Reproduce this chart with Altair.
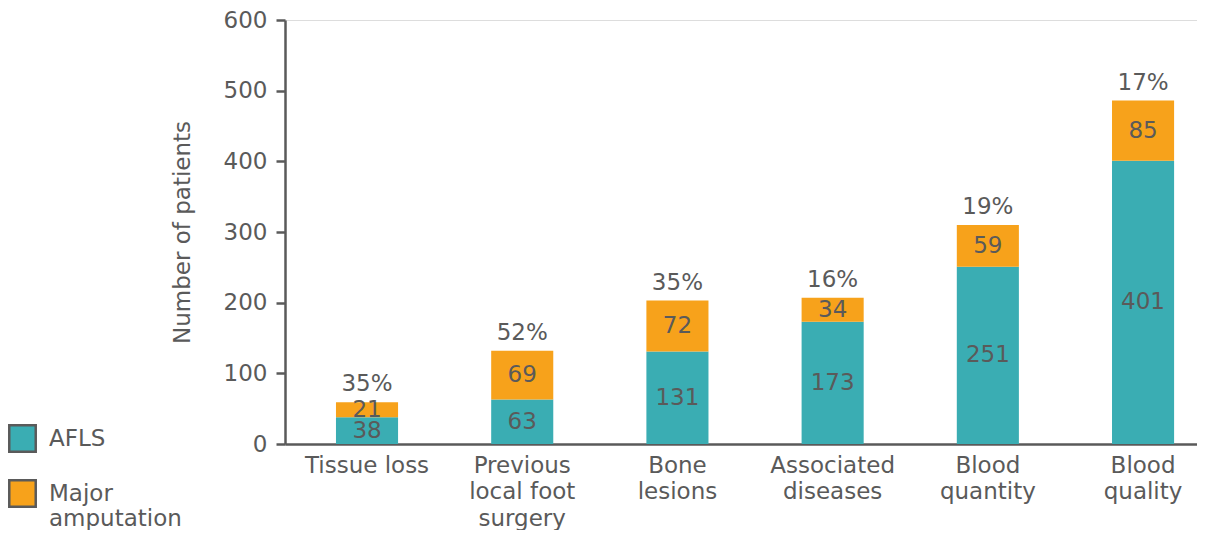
import altair as alt
import pandas as pd

categories = ["Tissue loss", "Previous\nlocal foot\nsurgery", "Bone\nlesions",
              "Associated\ndiseases", "Blood\nquantity", "Blood\nquality"]
afls = [38, 63, 131, 173, 251, 401]
major = [21, 69, 72, 34, 59, 85]
pct_labels = ["35%", "52%", "35%", "16%", "19%", "17%"]
series = ["AFLS", "Major amputation"]
colors = ["#3AADB3", "#F7A21B"]

TEXT = "#5a5a5a"
FONT = "DejaVu Sans"
FS = 23

rows = []
for c, a, m in zip(categories, afls, major):
    rows.append({"cat": c, "series": series[0], "value": a, "y0": 0, "y1": a, "order": 0})
    rows.append({"cat": c, "series": series[1], "value": m, "y0": a, "y1": a + m, "order": 1})
df = pd.DataFrame(rows)
df["mid"] = (df["y0"] + df["y1"]) / 2

tot = pd.DataFrame({"cat": categories, "total": [a + m for a, m in zip(afls, major)], "pct": pct_labels})

xenc = alt.X("cat:N", sort=categories,
             scale=alt.Scale(paddingInner=0.6, paddingOuter=0.238, align=0.69),
             axis=alt.Axis(title=None, labelExpr="split(datum.label, '\\n')", labelAngle=0,
                           labelFontSize=FS, labelColor=TEXT, labelFont=FONT,
                           labelLineHeight=26.5, labelPadding=10, ticks=False,
                           domainColor=TEXT, domainWidth=2.5, labelBaseline="top"))

bars = alt.Chart(df).mark_bar().encode(
    x=xenc,
    y=alt.Y("y0:Q", scale=alt.Scale(domain=[0, 600]),
            axis=alt.Axis(title="Number of patients", values=[0, 100, 200, 300, 400, 500, 600],
                          grid=False, labelFontSize=FS, labelColor=TEXT, labelFont=FONT,
                          titleFontSize=FS, titleColor=TEXT, titleFont=FONT, titleFontWeight="normal",
                          titlePadding=29, tickSize=9, tickWidth=2.5, tickColor=TEXT,
                          domainColor=TEXT, domainWidth=2.5, labelPadding=9)),
    y2="y1:Q",
    color=alt.Color("series:N", scale=alt.Scale(domain=series, range=colors),
                    legend=alt.Legend(title=None, orient="none", legendX=-277, legendY=404,
                                      symbolType="square", symbolSize=700,
                                      symbolStrokeColor=TEXT, symbolStrokeWidth=2.5,
                                      symbolOpacity=1, labelFontSize=FS, labelColor=TEXT,
                                      labelFont=FONT, labelOffset=12, rowPadding=18,
                                      labelExpr="datum.label == 'Major amputation' ? ['Major', 'amputation'] : datum.label",
                                      padding=0)),
)

seg_labels = alt.Chart(df).mark_text(fontSize=FS, color=TEXT, font=FONT, baseline="middle").encode(
    x=alt.X("cat:N", sort=categories),
    y="mid:Q",
    text="value:Q",
)

pct = alt.Chart(tot).mark_text(fontSize=FS, color=TEXT, font=FONT, baseline="middle", dy=-18).encode(
    x=alt.X("cat:N", sort=categories),
    y="total:Q",
    text="pct:N",
)

chart = alt.layer(bars, seg_labels, pct).properties(
    width=912, height=424,
    autosize=alt.AutoSizeParams(type="none"),
    padding={"left": 277, "top": 12, "right": 0, "bottom": 86},
).configure_view(stroke=None).configure(background="white")

chart.save("out.html", embed_options={"renderer": "svg", "actions": False})
